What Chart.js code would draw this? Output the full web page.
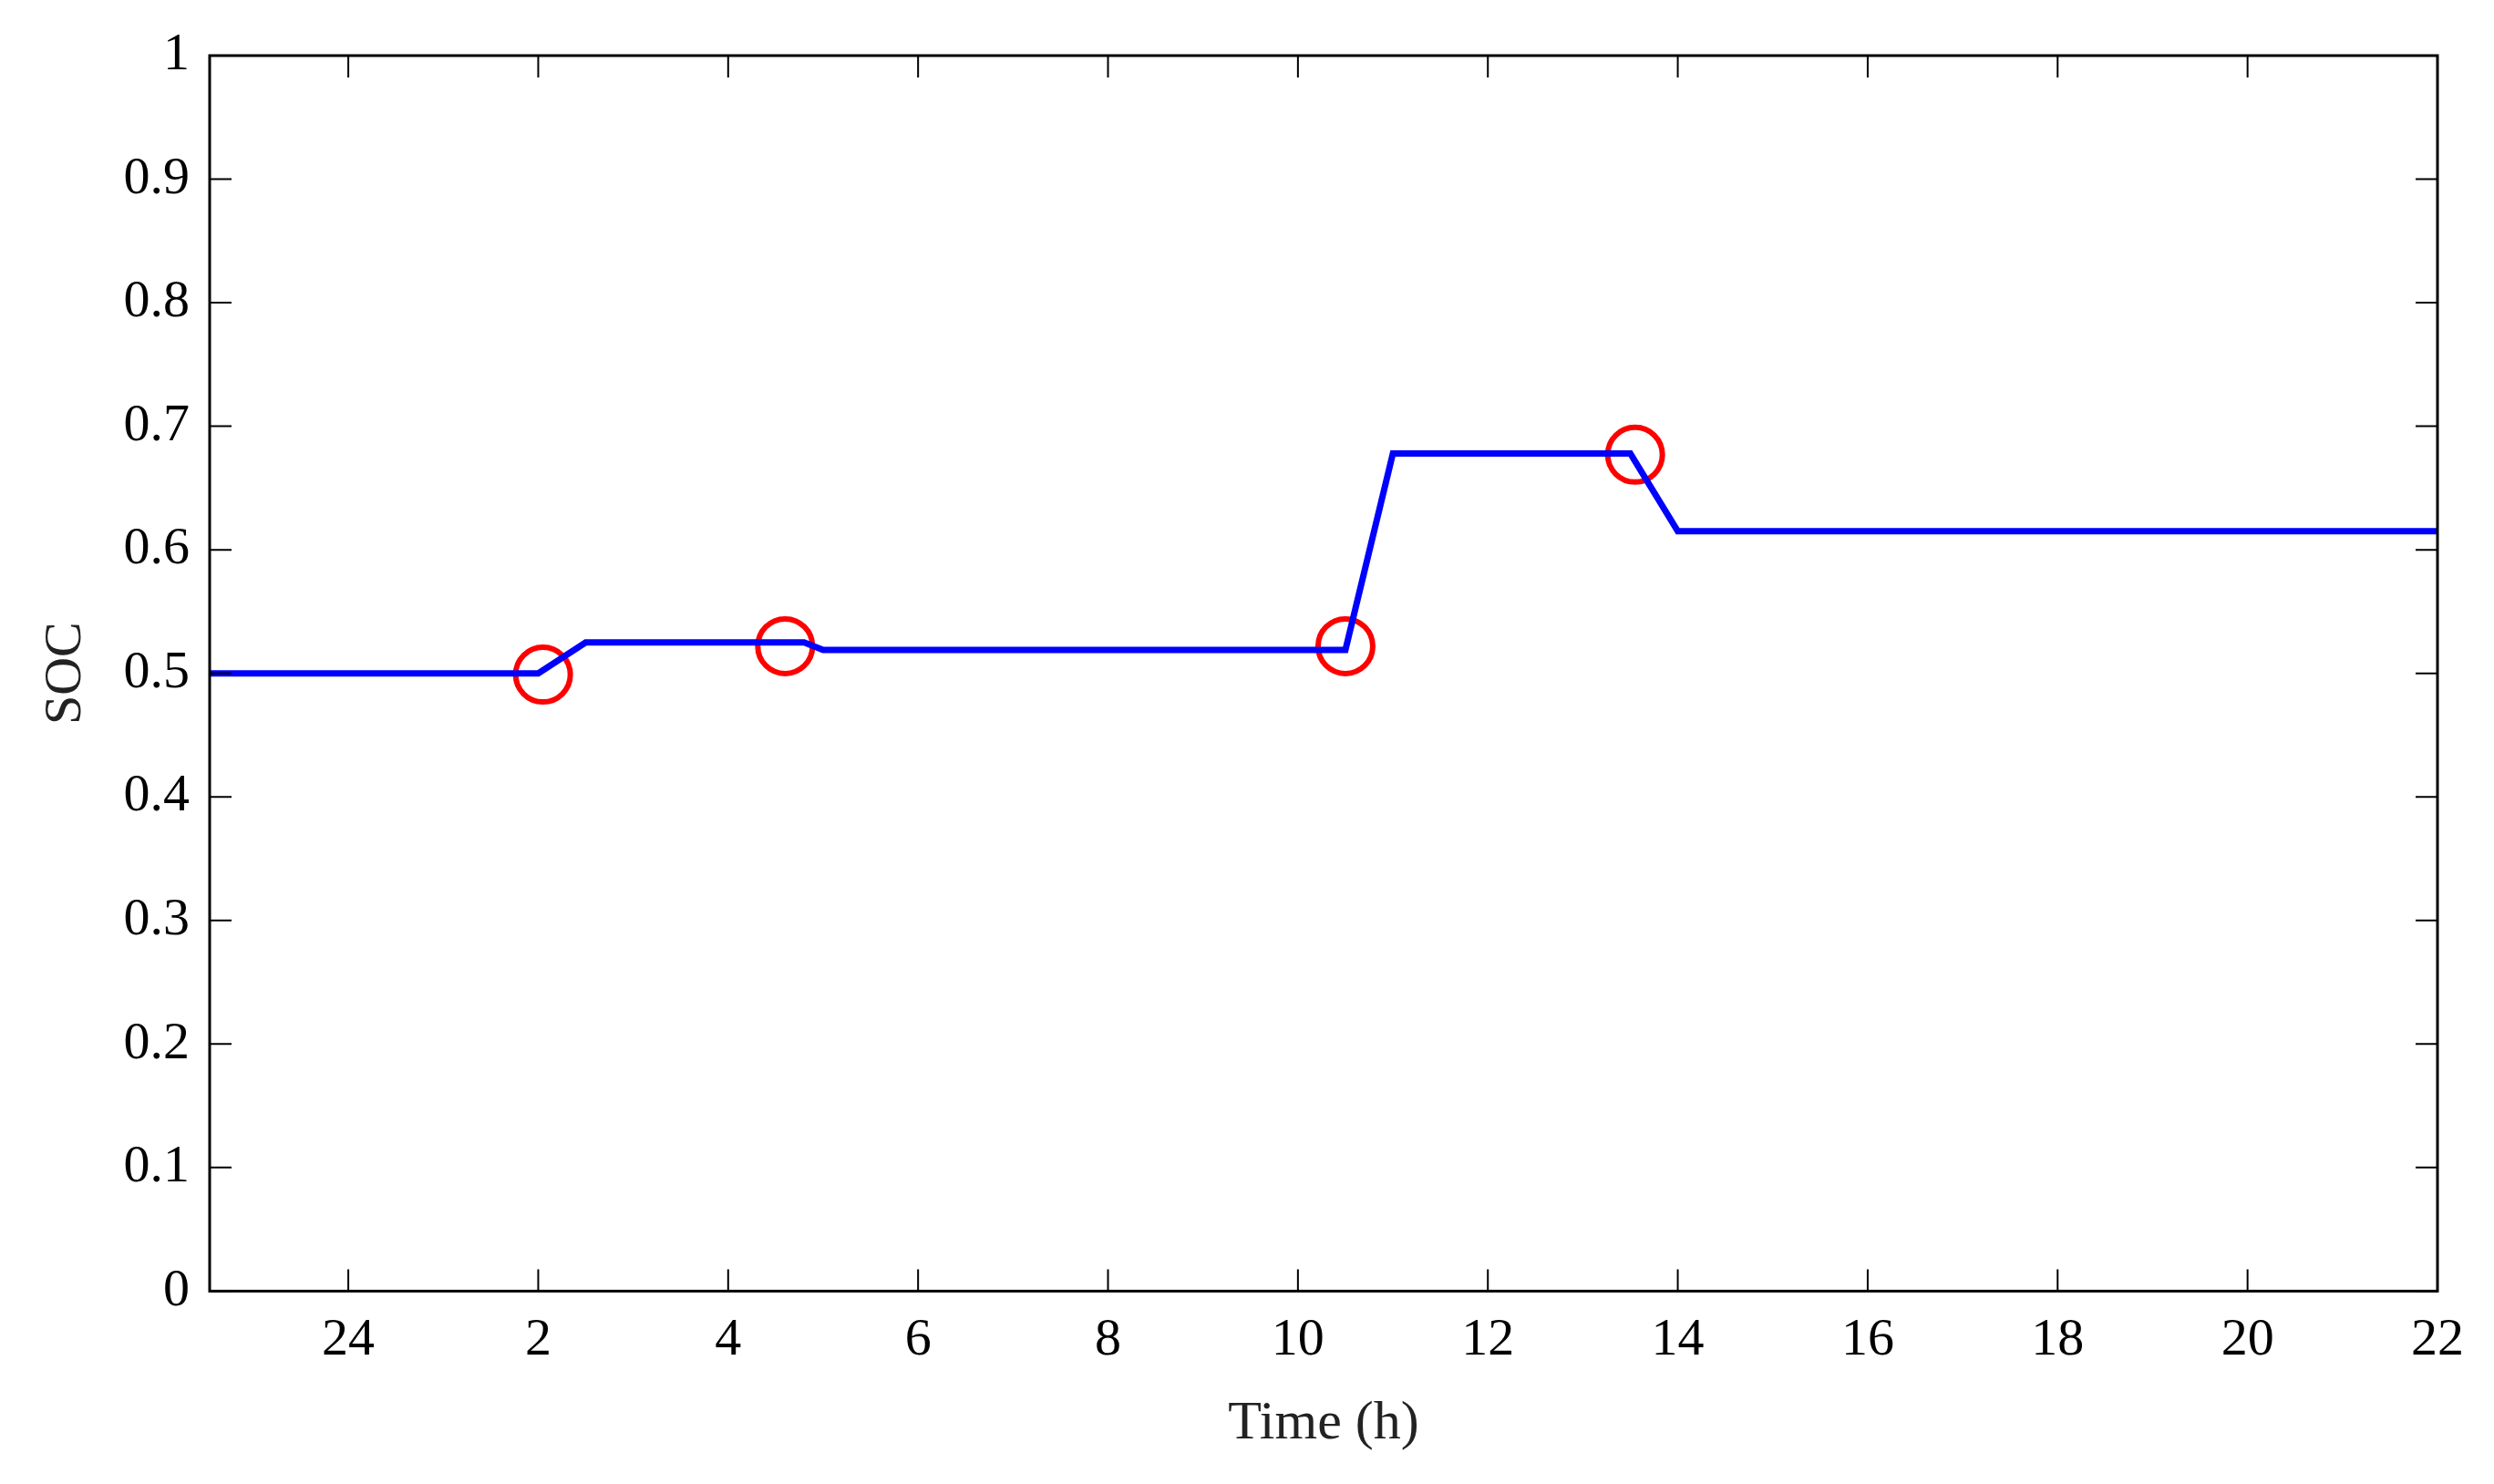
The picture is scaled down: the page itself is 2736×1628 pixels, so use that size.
<!DOCTYPE html>
<html>
<head>
<meta charset="utf-8">
<script src="https://cdn.jsdelivr.net/npm/chart.js@4"></script>
<style>
  body { margin: 0; background: #fff; }
  #wrap { width: 2736px; height: 1628px; }
</style>
</head>
<body>
<div id="wrap"><canvas id="myChart"></canvas></div>
<script>
// SOC profile (hours, value)
const socHours = [-1.46, 2, 2.5, 4.8, 5, 10.5, 11, 13.5, 14, 22];
const socValues = [0.5, 0.5, 0.525, 0.525, 0.519, 0.519, 0.678, 0.678, 0.615, 0.615];
// red circle markers
const markHours = [2.05, 4.6, 10.5, 13.55];
const markValues = [0.499, 0.522, 0.522, 0.677];
const xTicks = [0, 2, 4, 6, 8, 10, 12, 14, 16, 18, 20, 22];
const xTickLabels = ['24', '2', '4', '6', '8', '10', '12', '14', '16', '18', '20', '22'];

const font = { family: 'Liberation Serif', size: 58 };

// inner tick marks on all four sides
const innerTicks = {
  id: 'innerTicks',
  afterDraw(chart) {
    const c = chart.ctx, a = chart.chartArea;
    const x = chart.scales.x, y = chart.scales.y;
    const len = 24;
    c.save();
    c.strokeStyle = '#000';
    c.lineWidth = 2;
    c.beginPath();
    x.ticks.forEach(t => {
      const px = x.getPixelForValue(t.value);
      c.moveTo(px, a.bottom); c.lineTo(px, a.bottom - len);
      c.moveTo(px, a.top); c.lineTo(px, a.top + len);
    });
    y.ticks.forEach(t => {
      const py = y.getPixelForValue(t.value);
      c.moveTo(a.left, py); c.lineTo(a.left + len, py);
      c.moveTo(a.right, py); c.lineTo(a.right - len, py);
    });
    c.stroke();
    c.lineWidth = 3;
    c.strokeRect(a.left, a.top, a.right - a.left, a.bottom - a.top);
    c.restore();
  }
};

const ctx = document.getElementById('myChart');
new Chart(ctx, {
  type: 'scatter',
  data: {
    datasets: [
      {
        data: socHours.map((h, i) => ({ x: h, y: socValues[i] })),
        showLine: true,
        borderColor: '#0000ff',
        borderWidth: 7,
        pointRadius: 0,
        fill: false
      },
      {
        data: markHours.map((h, i) => ({ x: h, y: markValues[i] })),
        showLine: false,
        pointRadius: 30,
        pointBorderWidth: 6,
        pointBorderColor: '#ff0000',
        pointBackgroundColor: 'rgba(0,0,0,0)'
      }
    ]
  },
  plugins: [innerTicks],
  options: {
    responsive: true,
    maintainAspectRatio: false,
    animation: false,
    layout: { padding: { top: 61, right: 62, left: 34, bottom: 26 } },
    plugins: { legend: { display: false }, tooltip: { enabled: false } },
    scales: {
      x: {
        type: 'linear',
        min: -1.46,
        max: 22,
        afterBuildTicks: s => { s.ticks = xTicks.map(v => ({ value: v })); },
        ticks: {
          color: '#000', font: font, padding: 12, maxRotation: 0,
          callback: (v) => xTickLabels[xTicks.indexOf(v)]
        },
        grid: { display: false },
        border: { display: false },
        title: { display: true, text: 'Time (h)', color: '#222', font: { family: 'Liberation Serif', size: 60 }, padding: { top: 8 } }
      },
      y: {
        min: 0,
        max: 1,
        afterFit: s => { s.width = 196; },
        ticks: {
          stepSize: 0.1, color: '#000', font: font, padding: 14,
          callback: v => String(Math.round(v * 10) / 10)
        },
        grid: { display: false },
        border: { display: false },
        title: { display: true, text: 'SOC', color: '#222', font: font, padding: { bottom: 10 } }
      }
    }
  }
});
</script>
</body>
</html>
